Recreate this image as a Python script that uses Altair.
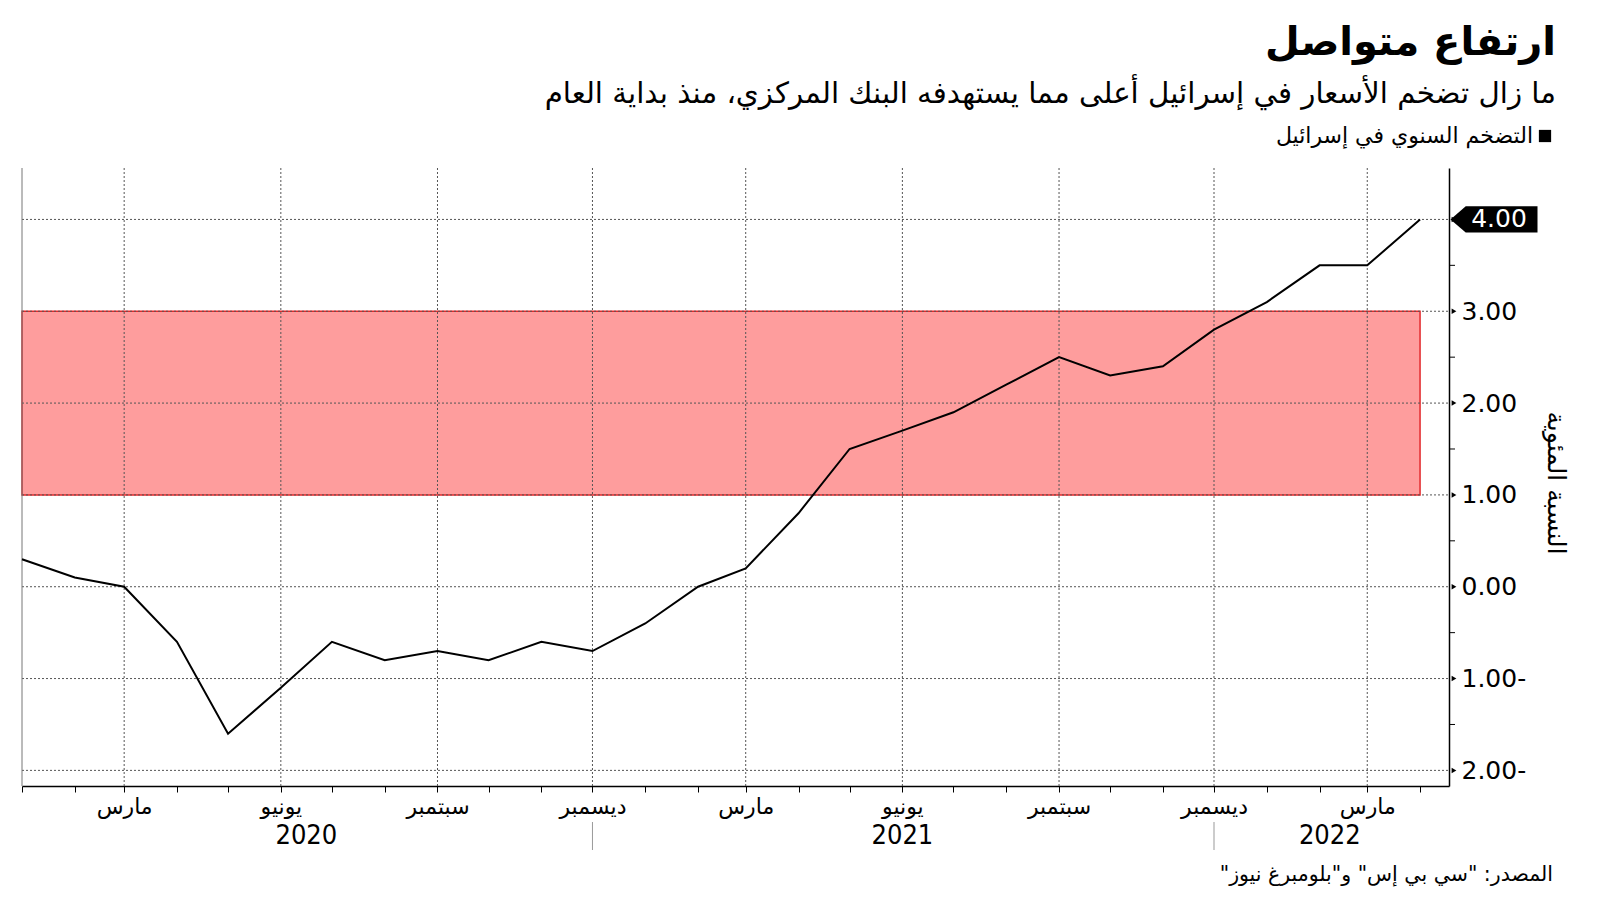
import altair as alt
import pandas as pd

# ---------------- data ----------------
months = [
    "2020-01-01", "2020-02-01", "2020-03-01", "2020-04-01", "2020-05-01", "2020-06-01",
    "2020-07-01", "2020-08-01", "2020-09-01", "2020-10-01", "2020-11-01", "2020-12-01",
    "2021-01-01", "2021-02-01", "2021-03-01", "2021-04-01", "2021-05-01", "2021-06-01",
    "2021-07-01", "2021-08-01", "2021-09-01", "2021-10-01", "2021-11-01", "2021-12-01",
    "2022-01-01", "2022-02-01", "2022-03-01", "2022-04-01",
]
inflation = [
    0.3, 0.1, 0.0, -0.6, -1.6, -1.1, -0.6, -0.8, -0.7, -0.8, -0.6, -0.7,
    -0.4, 0.0, 0.2, 0.8, 1.5, 1.7, 1.9, 2.2, 2.5, 2.3, 2.4, 2.8,
    3.1, 3.5, 3.5, 4.0,
]
target_low = [1.0]
target_high = [3.0]
target_start = ["2020-01-01"]
target_end = ["2022-04-01"]

y_ticks = [-2, -1, 0, 1, 2, 3, 4]
y_minor = [-1.5, -0.5, 0.5, 1.5, 2.5, 3.5]
quarter_grid = ["2020-03-01", "2020-06-01", "2020-09-01", "2020-12-01",
                "2021-03-01", "2021-06-01", "2021-09-01", "2021-12-01", "2022-03-01"]
year_labels = ["2020", "2021", "2022"]
year_label_pos = ["2020-06-16", "2021-06-01", "2022-02-07"]
year_separators = ["2020-12-01", "2021-12-01"]

RLM = "\u200f"
title = "ارتفاع متواصل"
subtitle = "ما زال تضخم الأسعار في إسرائيل أعلى مما يستهدفه البنك المركزي، منذ بداية العام"
legend_label = "التضخم السنوي في إسرائيل"
y_title = "النسبة المئوية"
source = RLM + "المصدر: \"سي بي إس\" و\"بلومبرغ نيوز\"" + RLM

# ---------------- layout ----------------
W, H = 1427, 618
AR_FONT = "DejaVu Sans"
NUM_FONT = "DejaVu Sans"

def ts(s):
    return s + "T00:00:00"

df = pd.DataFrame({"date": [ts(m) for m in months], "value": inflation})
band_df = pd.DataFrame({"date": [ts(s) for s in target_start], "end": [ts(e) for e in target_end],
                        "value": target_low, "high": target_high})
ygrid_df = pd.DataFrame({"value": y_ticks})
yminor_df = pd.DataFrame({"value": y_minor})
xgrid_df = pd.DataFrame({"date": [ts(q) for q in quarter_grid]})
years_df = pd.DataFrame({"date": [ts(p) for p in year_label_pos], "label": year_labels})
sep_df = pd.DataFrame({"date": [ts(s) for s in year_separators]})
last_df = pd.DataFrame({"value": [inflation[-1]], "label": [f"{inflation[-1]:.2f}"]})

x_scale = alt.Scale(domain=[alt.DateTime(year=2020, month=1, date=1),
                            alt.DateTime(year=2022, month=4, date=18)])
y_scale = alt.Scale(domain=[-2.17, 4.56], nice=False, zero=False)

all_month_vals = [alt.DateTime(year=int(m[:4]), month=int(m[5:7]), date=1) for m in months]

month_expr = ("month(datum.value)==2 ? 'مارس' : month(datum.value)==5 ? 'يونيو' : "
              "month(datum.value)==8 ? 'سبتمبر' : month(datum.value)==11 ? 'ديسمبر' : ''")
y_label_expr = ("datum.value==4 ? '' : (datum.value < 0 ? format(-datum.value, '.2f') + '-' "
                ": format(datum.value, '.2f'))")

x_axis = alt.Axis(values=all_month_vals, labelExpr=month_expr, title=None, grid=False,
                  tickSize=6, tickColor="black", tickWidth=1, domainColor="black",
                  domainWidth=1.5, labelFont=AR_FONT, labelFontSize=22, labelColor="black",
                  labelBaseline="middle", labelPadding=14, labelAlign="center",
                  labelOverlap=False, labelFlush=False)
y_axis = alt.Axis(orient="right", values=y_ticks, labelExpr=y_label_expr, title=None,
                  grid=False, ticks=False, domainColor="black", domainWidth=1.5,
                  labelFont=NUM_FONT, labelFontSize=25, labelColor="black",
                  labelPadding=12, labelAlign="left", labelBaseline="middle")

X = alt.X("date:T", scale=x_scale, axis=x_axis)
Y = alt.Y("value:Q", scale=y_scale, axis=y_axis)

line = alt.Chart(df).mark_line(color="black", strokeWidth=2).encode(x=X, y=Y)

band = alt.Chart(band_df).mark_rect(fill="#fe9d9d", stroke="#e3282b", strokeWidth=1.5).encode(
    x=X, x2="end:T", y=Y, y2="high:Q",
)

hgrid = alt.Chart(ygrid_df).mark_rule(color="#555555", strokeDash=[2, 2], strokeWidth=1).encode(
    y=Y, x=alt.value(0), x2=alt.value(W),
)

vgrid = alt.Chart(xgrid_df).mark_rule(color="#555555", strokeDash=[2, 2], strokeWidth=1).encode(
    x=X, y=alt.value(0), y2=alt.value(H),
)

left_border = alt.Chart(pd.DataFrame({"a": [0]})).mark_rule(color="#777777", strokeWidth=1).encode(
    x=alt.value(0), y=alt.value(0), y2=alt.value(H),
)

tri = alt.Chart(ygrid_df).mark_point(shape="triangle-right", filled=True, color="black",
                                     size=30, opacity=1).encode(
    y=Y, x=alt.value(W + 5),
)

minor = alt.Chart(yminor_df).mark_rule(color="black", strokeWidth=1).encode(
    y=Y, x=alt.value(W), x2=alt.value(W + 6),
)

box_path = "M -1 0 L -0.65 -0.3 L 1 -0.3 L 1 0.3 L -0.65 0.3 Z"
last_box = alt.Chart(last_df).mark_point(shape=box_path, filled=True, color="black",
                                         size=87 * 87, opacity=1).encode(
    y=Y, x=alt.value(1472),
)
last_text = alt.Chart(last_df).mark_text(color="white", font=NUM_FONT, fontSize=25,
                                         align="center", baseline="middle").encode(
    y=Y, x=alt.value(1477), text="label:N",
)

years = alt.Chart(years_df).mark_text(font="DejaVu Sans Condensed", fontSize=27, color="black",
                                      align="center", baseline="middle").encode(
    x=X, y=alt.value(H + 50), text="label:N",
)

seps = alt.Chart(sep_df).mark_rule(color="#999999", strokeWidth=1).encode(
    x=X, y=alt.value(H + 36), y2=alt.value(H + 64),
)

def txt(s, x, y, size, weight="normal", align="right"):
    return alt.Chart(pd.DataFrame({"t": [s]})).mark_text(
        font=AR_FONT, fontSize=size, fontWeight=weight, color="black",
        align=align, baseline="middle").encode(
        x=alt.value(x), y=alt.value(y), text="t:N")

title_t = txt(title, 1534, -125, 40, "bold")
subtitle_t = txt(subtitle, 1534, -74, 29.3)
legend_t = txt(legend_label, 1511, -32, 22)
source_t = txt(source, 1531, H + 89, 20.5)

legend_sq = alt.Chart(pd.DataFrame({"a": [0]})).mark_point(shape="square", filled=True,
                                                          color="black", size=150, opacity=1).encode(
    x=alt.value(1523), y=alt.value(-32))

ytitle = alt.Chart(pd.DataFrame({"t": [y_title]})).mark_text(
    font=AR_FONT, fontSize=25, color="black", angle=90, align="center", baseline="middle").encode(
    x=alt.value(1534), y=alt.value(315), text="t:N")

chart = alt.layer(
    band, hgrid, vgrid, left_border, line, tri, minor, last_box, last_text,
    years, seps, title_t, subtitle_t, legend_t, legend_sq, source_t, ytitle,
).properties(
    width=W, height=H,
    padding={"left": 14, "top": 160, "right": 143, "bottom": 107},
    autosize=alt.AutoSizeParams(type="none"),
    background="white",
).configure_view(stroke=None)

chart.save("out.html", embed_options={"renderer": "svg", "actions": False})
